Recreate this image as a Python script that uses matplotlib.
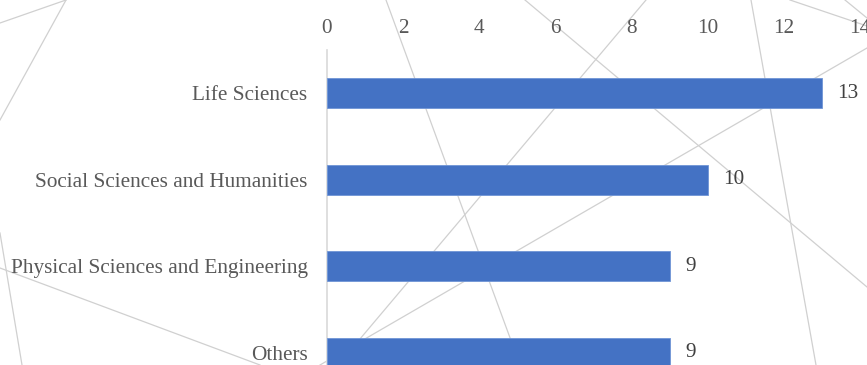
import matplotlib
matplotlib.use("Agg")
import matplotlib.pyplot as plt
from matplotlib.lines import Line2D

# data
categories = ["Life Sciences", "Social Sciences and Humanities",
              "Physical Sciences and Engineering", "Others"]
counts = [13, 10, 9, 9]
xticks = [0, 2, 4, 6, 8, 10, 12, 14]

W, H = 867, 365
# decorative background lines, pixel coords (x, y from top)
bg_lines = [
    ((0, 23), (66, 0)),
    ((66, 0), (0, 120)),
    ((0, 233), (22, 365)),
    ((0, 268), (260, 365)),
    ((386, 0), (520, 365)),
    ((525, 0), (867, 287)),
    ((646, 0), (338, 365)),
    ((867, 48), (320, 365)),
    ((751, 0), (816, 365)),
    ((790, 0), (867, 26)),
    ((845, 0), (867, 18)),
]

plt.rcParams['font.family'] = ['Liberation Serif', 'DejaVu Serif']
FS = 15.3

fig = plt.figure(figsize=(W / 100, H / 100), dpi=100)
fig.patch.set_facecolor("white")

for (x0, y0), (x1, y1) in bg_lines:
    fig.add_artist(Line2D([x0 / W, x1 / W], [1 - y0 / H, 1 - y1 / H],
                          transform=fig.transFigure, color="#d0d0d0",
                          lw=0.9, zorder=0))

# axes: x=0 at px 327, x=14 at px 860; top at px 50, runs past bottom edge
ax = fig.add_axes([327 / W, -0.085, (860 - 327) / W, 0.948])
ax.patch.set_alpha(0)

y = range(len(categories))
bars = ax.barh(y, counts, height=0.35, color="#4472c4",
               edgecolor="#6f95d6", linewidth=0.6, zorder=3)
ax.bar_label(bars, labels=[str(c) for c in counts], padding=11,
             fontsize=FS, color="#404040")

ax.set_xlim(0, 14)
ax.set_ylim(3.5, -0.5)
ax.set_xticks(xticks)
ax.set_yticks(list(y))
ax.set_yticklabels(categories)
ax.xaxis.tick_top()
ax.tick_params(axis="x", length=0, pad=8.5, labelsize=FS, labelcolor="#595959")
ax.tick_params(axis="y", length=0, pad=14, labelsize=FS, labelcolor="#595959")

for side in ["top", "right", "bottom"]:
    ax.spines[side].set_visible(False)
ax.spines["left"].set_color("#d9d9d9")
ax.spines["left"].set_linewidth(1.2)

fig.savefig("out.png", dpi=100)
